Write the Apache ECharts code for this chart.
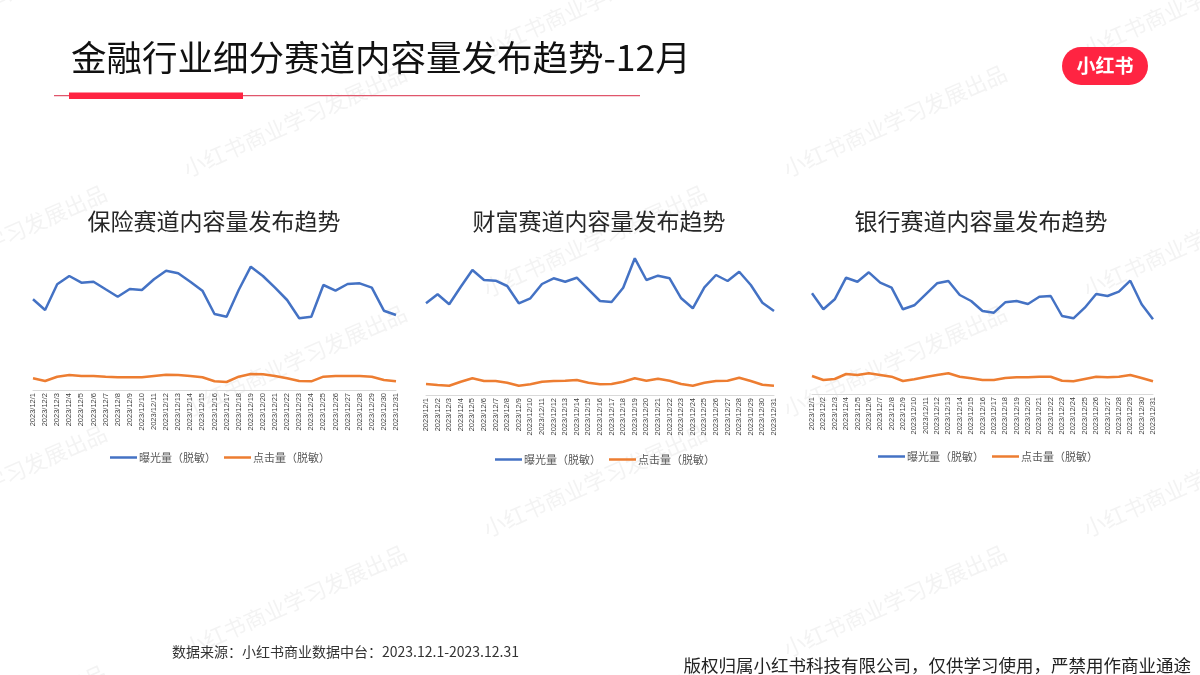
<!DOCTYPE html>
<html>
<head>
<meta charset="utf-8">
<script src="https://cdn.jsdelivr.net/npm/echarts@6/dist/echarts.min.js"></script>
<style>
html,body{margin:0;padding:0;background:#fff;}
#chart{width:1200px;height:675px;}
</style>
</head>
<body>
<div id="chart"></div>
<script>
// ---- data ----
const dates = [];
for (let d = 1; d <= 31; d++) dates.push('2023/12/' + d);

const seriesNames = ['曝光量（脱敏）', '点击量（脱敏）'];
const panelTitles = ['保险赛道内容量发布趋势', '财富赛道内容量发布趋势', '银行赛道内容量发布趋势'];

const insuranceExposure = [907,800,1057,1140,1073,1083,1007,933,1010,1000,1107,1193,1167,1083,993,760,733,1000,1233,1140,1023,900,717,733,1050,993,1060,1067,1023,793,750];
const insuranceClicks   = [117,90,133,150,140,140,133,127,127,127,140,153,150,140,127,87,80,133,160,157,140,117,90,87,133,140,140,140,133,100,87];

const wealthExposure = [917,1007,907,1083,1250,1150,1143,1090,917,967,1110,1167,1133,1173,1057,940,930,1073,1367,1150,1193,1167,967,867,1077,1200,1140,1233,1100,923,840];
const wealthClicks   = [110,100,93,133,167,140,140,123,93,107,133,140,143,150,123,107,110,133,167,143,163,143,110,93,123,140,143,173,140,103,93];

const bankExposure = [1007,847,947,1163,1123,1217,1113,1063,847,887,997,1107,1130,990,930,830,813,917,930,900,973,980,780,757,863,1000,980,1023,1133,897,747];
const bankClicks   = [180,140,150,200,190,207,190,173,130,147,170,190,207,173,157,140,140,160,167,167,173,173,133,127,150,173,167,173,190,160,127];

// ---- layout ----
const BLUE = '#4472C4', ORANGE = '#ED7D31';
const panels = [
  {exp: insuranceExposure, clk: insuranceClicks, grid: {left: 33, right: 804, top: 250, bottom: 285}, tx: 209, ty: 205, lx: 211, ly: 447},
  {exp: wealthExposure,    clk: wealthClicks,    grid: {left: 426, right: 426, top: 255, bottom: 280}, tx: 594, ty: 205, lx: 596, ly: 449},
  {exp: bankExposure,      clk: bankClicks,      grid: {left: 812, right: 47, top: 254, bottom: 281}, tx: 976, ty: 205, lx: 979, ly: 446}
];

const grid = [], xAxis = [], yAxis = [], series = [], legend = [], title = [];
panels.forEach((p, i) => {
  grid.push(p.grid);
  xAxis.push({
    type: 'category', gridIndex: i, data: dates, boundaryGap: false,
    axisLine: {lineStyle: {color: '#d9d9d9', width: 1}},
    axisTick: {show: false},
    axisLabel: {interval: 0, rotate: 90, fontSize: 7.5, color: '#404040', margin: 3, fontFamily: 'Liberation Sans Narrow, Liberation Sans'}
  });
  yAxis.push({type: 'value', gridIndex: i, min: 0, max: 1400, show: false, splitLine: {show: false}});
  series.push({
    name: seriesNames[0], type: 'line', xAxisIndex: i, yAxisIndex: i, data: p.exp,
    symbol: 'none', lineStyle: {color: BLUE, width: 2.5}, itemStyle: {color: BLUE}
  });
  series.push({
    name: seriesNames[1], type: 'line', xAxisIndex: i, yAxisIndex: i, data: p.clk,
    symbol: 'none', lineStyle: {color: ORANGE, width: 2.5}, itemStyle: {color: ORANGE}
  });
  legend.push({
    data: seriesNames, left: p.lx - 106, top: p.ly, selectedMode: false,
    icon: 'rect', itemWidth: 27, itemHeight: 2.5, itemGap: 8,
    textStyle: {fontSize: 11, color: '#595959', fontFamily: 'Noto Sans CJK SC', padding: [0, 0, 0, -3]}
  });
  title.push({
    text: panelTitles[i], left: p.tx, top: p.ty, textAlign: 'center',
    textStyle: {fontSize: 23, fontWeight: 'normal', color: '#262626', fontFamily: 'Noto Sans CJK SC'}
  });
});

// watermark tiles
const wm = [];
for (let r = -1; r < 7; r++) {
  for (let k = -1; k < 4; k++) {
    wm.push({
      type: 'text', silent: true, z: -10,
      x: (r % 2 === 0 ? 0 : 300) - 120 + k * 600, y: 40 + r * 120,
      rotation: Math.PI / 7.5,
      style: {text: '小红书商业学习发展出品', fontSize: 22, fill: 'rgba(120,120,120,0.09)', fontFamily: 'Noto Sans CJK SC'}
    });
  }
}

const chart = echarts.init(document.getElementById('chart'));
const option = {
  backgroundColor: '#fff',
  animation: false,
  title: title,
  grid: grid, xAxis: xAxis, yAxis: yAxis, series: series,
  legend: legend,
  graphic: wm.concat([
    {type: 'text', left: 71, top: 40, style: {text: '金融行业细分赛道内容量发布趋势-12月', fontSize: 35.5, fill: '#111', fontFamily: 'Noto Sans CJK SC'}},
    {type: 'rect', shape: {x: 54, y: 95, width: 586, height: 1.3}, style: {fill: '#e0566b'}},
    {type: 'rect', shape: {x: 69, y: 92.5, width: 174, height: 6.5}, style: {fill: '#ff2442'}},
    {type: 'rect', shape: {x: 1062, y: 47, width: 86, height: 38, r: 19}, style: {fill: '#ff2442'}},
    {type: 'text', x: 1105, y: 66, style: {text: '小红书', fontSize: 19, fontWeight: 'bold', fill: '#fff', align: 'center', verticalAlign: 'middle', fontFamily: 'Noto Sans CJK SC'}},
    {type: 'text', x: 172, y: 652, style: {text: '数据来源：小红书商业数据中台：2023.12.1-2023.12.31', fontSize: 14, fill: '#333', verticalAlign: 'middle', fontFamily: 'Noto Sans CJK SC'}},
    {type: 'text', x: 1191, y: 665, style: {text: '版权归属小红书科技有限公司，仅供学习使用，严禁用作商业通途', fontSize: 17.5, fill: '#222', align: 'right', verticalAlign: 'middle', fontFamily: 'Noto Sans CJK SC'}}
  ])
};
chart.setOption(option);
</script>
</body>
</html>
